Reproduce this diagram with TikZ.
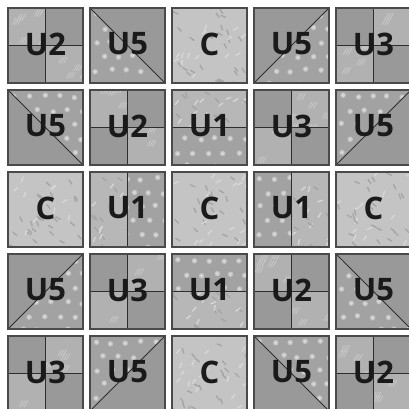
\documentclass[tikz,border=0pt]{standalone}
\usepackage{fontspec}
\setmainfont{Open Sans}
\newfontfamily\lblfont{Open Sans}
\definecolor{solidc}{HTML}{999999}
\definecolor{dotbase}{HTML}{A2A2A2}
\definecolor{dotc}{HTML}{D6D6D6}
\definecolor{cbase}{HTML}{C4C4C4}
\definecolor{lbase}{HTML}{B7B7B7}
\definecolor{leafdark}{HTML}{A4A4A4}
\definecolor{leaflight}{HTML}{D8D8D8}
\definecolor{stbase}{HTML}{B1B1B1}
\definecolor{stline}{HTML}{C9C9C9}
\definecolor{framec}{HTML}{4A4A4A}
\definecolor{seamc}{HTML}{2E2E2E}
\definecolor{txtc}{HTML}{1A1A1A}
\tikzset{
  frame/.style={draw=framec,line width=1.4pt},
  seam/.style={draw=seamc,line width=1pt},
  lbl/.style={inner sep=0pt,text=txtc,font=\lblfont\bfseries\fontsize{31}{31}\selectfont},
  leafstroke/.style={line width=1.3pt,line cap=round},
  stripestroke/.style={draw=stline,line width=0.8pt,line cap=round},
}
% fabrics: #1 x, #2 y of the block, #3 region path
\newcommand\fabSolid[3]{\fill[solidc] #3;}
\newcommand\fabDot[3]{\begin{scope}\clip #3; \fill[dotbase] #3;
  \foreach \i in {0,...,5}{\foreach \j in {0,...,5}{%
    \pgfmathsetmacro\px{#1+5+\i*15+mod(\j,2)*7.5+rnd*3}%
    \pgfmathsetmacro\py{#2+5+\j*14+rnd*3}%
    \fill[dotc!60!dotbase] (\px,\py) circle (2.8);
    \fill[dotc] (\px,\py) circle (1.9);}}\end{scope}}
\newcommand\fabLeafGen[4]{\begin{scope}\clip #3; \fill[#4] #3;
  \foreach \k in {1,...,40}{%
    \pgfmathsetmacro\px{#1+rnd*75}\pgfmathsetmacro\py{#2+rnd*75}%
    \pgfmathsetmacro\pa{20+rnd*60}\pgfmathsetmacro\pc{rnd}%
    \ifdim\pc pt<0.6pt \draw[leafstroke,leafdark] (\px,\py) -- ++(\pa:5);%
    \else \draw[leafstroke,leaflight] (\px,\py) -- ++(-\pa:5);\fi}\end{scope}}
\newcommand\fabLeafC[3]{\fabLeafGen{#1}{#2}{#3}{cbase}}
\newcommand\fabLeafL[3]{\fabLeafGen{#1}{#2}{#3}{lbase}}
\newcommand\fabStripe[3]{\begin{scope}\clip #3; \fill[stbase] #3;
  \foreach \k in {1,...,14}{%
    \pgfmathsetmacro\px{#1+rnd*75}\pgfmathsetmacro\py{#2+rnd*75}%
    \draw[stripestroke] (\px,\py) -- ++(-60:7) (\px+2.5,\py) -- ++(-60:7) (\px+5,\py) -- ++(-60:7);}\end{scope}}
% blocks
\newcommand\qC[3]{%
  \fabLeafC{#1}{#2}{(#1,#2) rectangle ++(75,75)}
  \draw[frame] (#1,#2) rectangle ++(75,75);
  \node[lbl] (#3) at (#1+37.5,#2+36) {C};}
\newcommand\qQuad[6]{% TL,BR = #5 ; TR,BL = #6
  #5{#1}{#2}{(#1,#2) rectangle ++(37.5,37.5)}
  #6{#1}{#2}{(#1+37.5,#2) rectangle ++(37.5,37.5)}
  #6{#1}{#2}{(#1,#2+37.5) rectangle ++(37.5,37.5)}
  #5{#1}{#2}{(#1+37.5,#2+37.5) rectangle ++(37.5,37.5)}
  \draw[seam] (#1+37.5,#2) -- (#1+37.5,#2+75) (#1,#2+37.5) -- (#1+75,#2+37.5);
  \draw[frame] (#1,#2) rectangle ++(75,75);
  \node[lbl] (#3) at (#1+37.5,#2+36) {#4};}
\newcommand\qOneH[5]{% top #4, bottom #5
  #4{#1}{#2}{(#1,#2) rectangle ++(75,37.5)}
  #5{#1}{#2}{(#1,#2+37.5) rectangle ++(75,37.5)}
  \draw[seam] (#1,#2+37.5) -- (#1+75,#2+37.5);
  \draw[frame] (#1,#2) rectangle ++(75,75);
  \node[lbl] (#3) at (#1+37.5,#2+36) {U1};}
\newcommand\qOneV[5]{% left #4, right #5
  #4{#1}{#2}{(#1,#2) rectangle ++(37.5,75)}
  #5{#1}{#2}{(#1+37.5,#2) rectangle ++(37.5,75)}
  \draw[seam] (#1+37.5,#2) -- (#1+37.5,#2+75);
  \draw[frame] (#1,#2) rectangle ++(75,75);
  \node[lbl] (#3) at (#1+37.5,#2+36) {U1};}
\newcommand\qFiveA[5]{% diagonal TL-BR ; upper-right #4, lower-left #5
  #4{#1}{#2}{(#1,#2) -- (#1+75,#2) -- (#1+75,#2+75) -- cycle}
  #5{#1}{#2}{(#1,#2) -- (#1,#2+75) -- (#1+75,#2+75) -- cycle}
  \draw[seam] (#1,#2) -- (#1+75,#2+75);
  \draw[frame] (#1,#2) rectangle ++(75,75);
  \node[lbl] (#3) at (#1+37.5,#2+36) {U5};}
\newcommand\qFiveB[5]{% diagonal BL-TR ; upper-left #4, lower-right #5
  #4{#1}{#2}{(#1,#2) -- (#1+75,#2) -- (#1,#2+75) -- cycle}
  #5{#1}{#2}{(#1+75,#2) -- (#1+75,#2+75) -- (#1,#2+75) -- cycle}
  \draw[seam] (#1,#2+75) -- (#1+75,#2);
  \draw[frame] (#1,#2) rectangle ++(75,75);
  \node[lbl] (#3) at (#1+37.5,#2+36) {U5};}
\begin{document}
\begin{tikzpicture}[x=1pt,y=-1pt]
\pgfmathsetseed{7}
\useasboundingbox (0,0) rectangle (409,408);
\clip (0,0) rectangle (409,408);
\fill[white] (0,0) rectangle (409,408);
% row 1
\qQuad{8}{8}{b11}{U2}{\fabStripe}{\fabSolid}
\qFiveA{90}{8}{b12}{\fabSolid}{\fabDot}
\qC{172}{8}{b13}
\qFiveB{254}{8}{b14}{\fabSolid}{\fabDot}
\qQuad{336}{8}{b15}{U3}{\fabSolid}{\fabStripe}
% row 2
\qFiveA{8}{90}{b21}{\fabDot}{\fabSolid}
\qQuad{90}{90}{b22}{U2}{\fabStripe}{\fabSolid}
\qOneH{172}{90}{b23}{\fabLeafL}{\fabDot}
\qQuad{254}{90}{b24}{U3}{\fabSolid}{\fabStripe}
\qFiveB{336}{90}{b25}{\fabDot}{\fabSolid}
% row 3
\qC{8}{172}{b31}
\qOneV{90}{172}{b32}{\fabLeafL}{\fabDot}
\qC{172}{172}{b33}
\qOneV{254}{172}{b34}{\fabDot}{\fabLeafL}
\qC{336}{172}{b35}
% row 4
\qFiveB{8}{254}{b41}{\fabSolid}{\fabDot}
\qQuad{90}{254}{b42}{U3}{\fabSolid}{\fabStripe}
\qOneH{172}{254}{b43}{\fabDot}{\fabLeafL}
\qQuad{254}{254}{b44}{U2}{\fabStripe}{\fabSolid}
\qFiveA{336}{254}{b45}{\fabSolid}{\fabDot}
% row 5
\qQuad{8}{336}{b51}{U3}{\fabSolid}{\fabStripe}
\qFiveB{90}{336}{b52}{\fabDot}{\fabSolid}
\qC{172}{336}{b53}
\qFiveA{254}{336}{b54}{\fabDot}{\fabSolid}
\qQuad{336}{336}{b55}{U2}{\fabStripe}{\fabSolid}
\end{tikzpicture}
\end{document}
